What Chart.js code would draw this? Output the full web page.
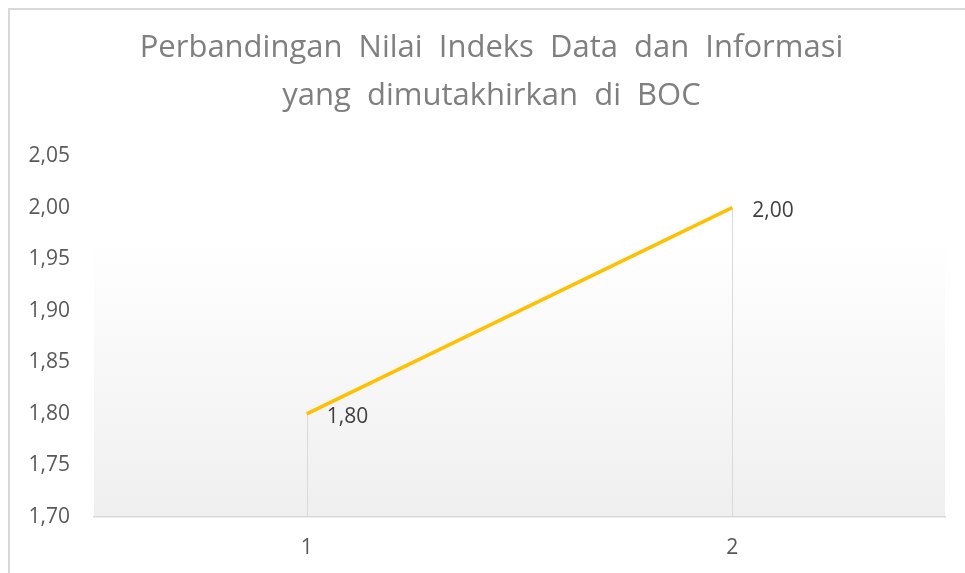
<!DOCTYPE html>
<html>
<head>
<meta charset="utf-8">
<script src="https://cdn.jsdelivr.net/npm/chart.js@4.4.0/dist/chart.umd.min.js"></script>
<style>
  body { margin: 0; background: #fff; }
  #box {
    position: absolute; left: 8px; top: 8px;
    width: 955px; height: 563px; overflow: hidden;
    border-left: 2px solid #d9d9d9; border-top: 2px solid #d9d9d9;
  }
</style>
</head>
<body>
<div id="box"><canvas id="myChart" width="975" height="563"></canvas></div>
<script>
// data
var kategori = ["1", "2"];
var nilai = [1.8, 2.0];
var judul = ["Perbandingan  Nilai  Indeks  Data  dan  Informasi", "yang  dimutakhirkan  di  BOC"];

function koma(v) {
  return Number(v).toFixed(2).replace(".", ",");
}

// background gradasi di area plot
var latarPlot = {
  id: "latarPlot",
  afterLayout: function (chart) {
    // supaya label sumbu y tidak terpotong oleh padding kiri
    chart.scales.y.left = 0;
  },
  beforeDraw: function (chart) {
    var ctx = chart.ctx, a = chart.chartArea;
    var g = ctx.createLinearGradient(0, a.top, 0, a.bottom);
    g.addColorStop(0, "#ffffff");
    g.addColorStop(0.22, "#ffffff");
    g.addColorStop(1, "#efefef");
    ctx.save();
    ctx.fillStyle = g;
    ctx.fillRect(a.left, a.top + 82, a.right - a.left, a.bottom - a.top - 82);
    ctx.restore();
  }
};

// garis jatuh dari titik ke sumbu
var garisJatuh = {
  id: "garisJatuh",
  beforeDatasetsDraw: function (chart) {
    var ctx = chart.ctx, a = chart.chartArea;
    ctx.save();
    ctx.strokeStyle = "#d9d9d9";
    ctx.lineWidth = 1;
    chart.getDatasetMeta(0).data.forEach(function (p) {
      ctx.beginPath();
      ctx.moveTo(Math.round(p.x) + 0.5, p.y);
      ctx.lineTo(Math.round(p.x) + 0.5, a.bottom);
      ctx.stroke();
    });
    ctx.restore();
  }
};

// label nilai
var labelNilai = {
  id: "labelNilai",
  afterDatasetsDraw: function (chart) {
    var ctx = chart.ctx;
    ctx.save();
    ctx.font = "21px 'Open Sans'";
    ctx.fillStyle = "#404040";
    ctx.textAlign = "left";
    ctx.textBaseline = "middle";
    chart.getDatasetMeta(0).data.forEach(function (p, i) {
      ctx.fillText(koma(nilai[i]), p.x + 20, p.y + 3);
    });
    ctx.restore();
  }
};

new Chart("myChart", {
  type: "line",
  data: {
    labels: kategori,
    datasets: [
      {
        data: nilai,
        borderColor: "#ffc000",
        borderWidth: 3.5,
        pointRadius: 0,
        pointHoverRadius: 0,
        tension: 0
      }
    ]
  },
  plugins: [latarPlot, garisJatuh, labelNilai],
  options: {
    responsive: false,
    animation: false,
    layout: { padding: { left: 28, right: 40, top: 0, bottom: 0 } },
    plugins: {
      legend: { display: false },
      tooltip: { enabled: false },
      title: {
        display: true,
        text: judul,
        color: "#7f7f7f",
        font: { family: "'Open Sans'", size: 31, weight: "normal", lineHeight: 1.55 },
        padding: { top: 14, bottom: 36 }
      }
    },
    scales: {
      x: {
        offset: true,
        grid: { display: false, drawTicks: false },
        border: { display: true, color: "#d9d9d9", width: 1.5 },
        afterFit: function (s) { s.height = 56; },
        ticks: { color: "#595959", font: { family: "'Open Sans'", size: 21 }, padding: 18 }
      },
      y: {
        min: 1.7,
        max: 2.05,
        grid: { display: false, drawTicks: false },
        border: { display: false },
        afterFit: function (s) { s.width = 56; },
        ticks: {
          stepSize: 0.05,
          color: "#595959",
          font: { family: "'Open Sans'", size: 21 },
          padding: 24,
          callback: function (v) { return koma(v); }
        }
      }
    }
  }
});
</script>
</body>
</html>
